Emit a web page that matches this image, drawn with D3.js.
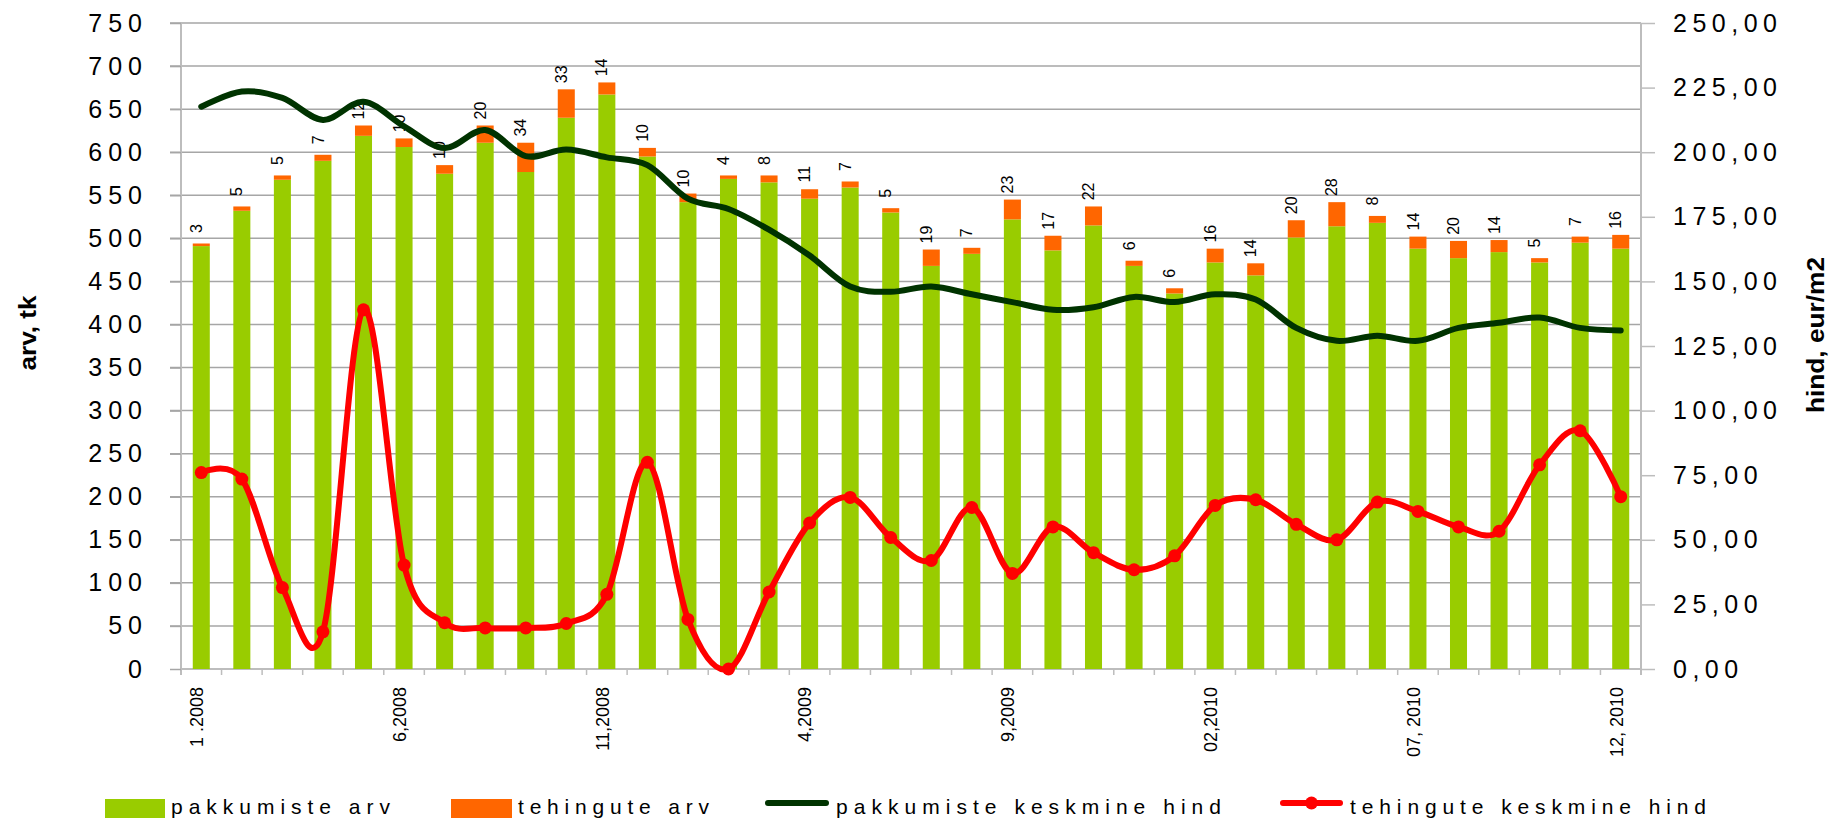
<!DOCTYPE html>
<html><head><meta charset="utf-8">
<script src="https://cdn.jsdelivr.net/npm/d3@7"></script>
<style>body{margin:0;background:#fff}svg{display:block}</style>
</head><body>
<svg id="chart" width="1831" height="820"></svg>
<script>
// ---------- data ----------
const months = ["01.2008","02.2008","03.2008","04.2008","05.2008","06.2008","07.2008","08.2008","09.2008","10.2008","11.2008","12.2008",
  "01.2009","02.2009","03.2009","04.2009","05.2009","06.2009","07.2009","08.2009","09.2009","10.2009","11.2009","12.2009",
  "01.2010","02.2010","03.2010","04.2010","05.2010","06.2010","07.2010","08.2010","09.2010","10.2010","11.2010","12.2010"];
const xTickMonths = ["01.2008","06.2008","11.2008","04.2009","09.2009","02.2010","07.2010","12.2010"];
const xTickLabels = ["1 .2008","6,2008","11,2008","4,2009","9,2009","02,2010","07, 2010","12, 2010"];
const pakkumisteArv = [491,532,568,590,619,606,575,611,577,640,667,595,542,569,565,546,559,530,468,482,522,486,515,468,436,472,457,501,514,518,488,477,484,472,495,488];
const tehinguteArv = [3,5,5,7,12,10,10,20,34,33,14,10,10,4,8,11,7,5,19,7,23,17,22,6,6,16,14,20,28,8,14,20,14,5,7,16];
const pakkumisteHind = [217.6,223.5,221,212.5,219.5,210,201.6,208.6,198.5,201,198,195,182,178,170,160,148,146,148,145,142,139,140,144,142,145,143,132,127,129,127,132,134,136,132,131];
const tehinguteHind = [76,73.5,31.5,14.4,139,40.2,17.9,15.9,15.9,17.6,28.9,80,19.2,0,29.8,56.5,66.4,50.9,42,62.5,37,55,45,38.4,43.8,63.3,65.5,56,50,64.6,61,55,53.3,79,92.2,66.7];
const leftTicks = [0,50,100,150,200,250,300,350,400,450,500,550,600,650,700,750];
const rightTicks = [0,25,50,75,100,125,150,175,200,225,250];
const seriesNames = ["pakkumiste arv","tehingute arv","pakkumiste keskmine hind","tehingute keskmine hind"];
const axisTitles = ["arv, tk","hind, eur/m2"];

// ---------- layout ----------
const L = 181, R = 1641, T = 23, B = 669;
const C = {green:"#99CC00", orange:"#FF6600", dark:"#003300", red:"#FF0000", grid:"#A6A6A6", axis:"#BDBDBD"};
const FONT = "'Liberation Sans', Arial, sans-serif";

const svg = d3.select("#chart");
const x = d3.scaleBand().domain(months).range([L, R]).paddingInner(0.58).paddingOuter(0.29);
const xs = d3.scaleBand().domain(months).range([L, R]).padding(0); // slots
const yL = d3.scaleLinear().domain([0, 750]).range([B, T]);
const yR = d3.scaleLinear().domain([0, 250]).range([B, T]);
const cx = m => xs(m) + xs.bandwidth() / 2;

// gridlines
svg.append("g").selectAll("line").data(leftTicks.filter(d => d > 0)).join("line")
  .attr("x1", L - 11).attr("x2", R).attr("y1", d => yL(d)).attr("y2", d => yL(d))
  .attr("stroke", C.grid).attr("stroke-width", 1.5);

// left axis
const gl = svg.append("g").attr("transform", `translate(${L},0)`)
  .call(d3.axisLeft(yL).tickValues(leftTicks).tickSize(11).tickPadding(28));
gl.select(".domain").attr("stroke", C.axis).attr("stroke-width", 2).attr("d", `M0,${T}V${B + 6}`);
gl.selectAll(".tick line").attr("stroke", C.grid).attr("stroke-width", 1.5);
gl.selectAll(".tick text").attr("font-family", FONT).attr("font-size", 25).attr("fill", "#000")
  .style("letter-spacing", "6px").attr("dx", 6);

// right axis
const fmtR = d => d3.format(".2f")(d).replace(".", ",");
const gr = svg.append("g").attr("transform", `translate(${R},0)`)
  .call(d3.axisRight(yR).tickValues(rightTicks).tickSize(14).tickPadding(18).tickFormat(fmtR));
gr.select(".domain").attr("stroke", C.axis).attr("stroke-width", 2).attr("d", `M0,${T}V${B + 6}`);
gr.selectAll(".tick line").attr("stroke", C.axis).attr("stroke-width", 1.5);
gr.selectAll(".tick text").attr("font-family", FONT).attr("font-size", 25).attr("fill", "#000")
  .style("letter-spacing", "5.5px");

// x axis
const gx = svg.append("g").attr("transform", `translate(0,${B})`)
  .call(d3.axisBottom(xs).tickValues([]).tickSize(0));
gx.select(".domain").attr("stroke", C.axis).attr("stroke-width", 2).attr("d", `M${L},0H${R}`);
svg.append("g").selectAll("line").data(months.slice(1)).join("line")
  .attr("x1", d => xs(d)).attr("x2", d => xs(d)).attr("y1", B).attr("y2", B + 6)
  .attr("stroke", C.axis).attr("stroke-width", 1.5);
svg.append("g").selectAll("text").data(xTickMonths).join("text")
  .attr("transform", d => `translate(${cx(d) - 4.5},687) rotate(-90)`)
  .attr("text-anchor", "end").attr("dy", "0.35em")
  .attr("font-family", FONT).attr("font-size", 18).attr("fill", "#000")
  .text((d, i) => xTickLabels[i]);

// bars
const rows = months.map((m, i) => ({m, g: pakkumisteArv[i], o: tehinguteArv[i]}));
const bars = svg.append("g");
bars.selectAll("rect.g").data(rows).join("rect").attr("class", "g")
  .attr("x", d => x(d.m)).attr("width", x.bandwidth())
  .attr("y", d => yL(d.g)).attr("height", d => yL(0) - yL(d.g)).attr("fill", C.green);
bars.selectAll("rect.o").data(rows).join("rect").attr("class", "o")
  .attr("x", d => x(d.m)).attr("width", x.bandwidth())
  .attr("y", d => yL(d.g + d.o)).attr("height", d => yL(d.g) - yL(d.g + d.o)).attr("fill", C.orange);
bars.selectAll("text").data(rows).join("text")
  .attr("transform", d => `translate(${cx(d.m) - 5},${yL(d.g + d.o) - 15}) rotate(-90)`)
  .attr("text-anchor", "middle").attr("dy", "0.35em")
  .attr("font-family", FONT).attr("font-size", 16).attr("fill", "#000")
  .text(d => d.o);

// lines
const curve = d3.curveCatmullRom.alpha(0);
const lineDark = d3.line().x((d, i) => cx(months[i])).y(d => yR(d)).curve(curve);
svg.append("path").datum(pakkumisteHind).attr("d", lineDark)
  .attr("fill", "none").attr("stroke", C.dark).attr("stroke-width", 6)
  .attr("stroke-linecap", "round").attr("stroke-linejoin", "round");
svg.append("path").datum(tehinguteHind).attr("d", lineDark)
  .attr("fill", "none").attr("stroke", C.red).attr("stroke-width", 6)
  .attr("stroke-linecap", "round").attr("stroke-linejoin", "round");
svg.append("g").selectAll("circle").data(tehinguteHind).join("circle")
  .attr("cx", (d, i) => cx(months[i])).attr("cy", d => yR(d)).attr("r", 6.5).attr("fill", C.red);

// axis titles
svg.append("text").attr("transform", "translate(28,333) rotate(-90)")
  .attr("text-anchor", "middle").attr("dy", "0.35em")
  .attr("font-family", FONT).attr("font-weight", "bold").attr("font-size", 23)
  .attr("textLength", 75).attr("lengthAdjust", "spacingAndGlyphs").text(axisTitles[0]);
svg.append("text").attr("transform", "translate(1816,335) rotate(-90)")
  .attr("text-anchor", "middle").attr("dy", "0.35em")
  .attr("font-family", FONT).attr("font-weight", "bold").attr("font-size", 23)
  .attr("textLength", 156).attr("lengthAdjust", "spacingAndGlyphs").text(axisTitles[1]);

// legend
const lg = svg.append("g").attr("font-family", FONT).attr("font-size", 21).attr("fill", "#000");
const legendItems = [
  {type: "rect", color: C.green, sx: 105, sw: 60, tx: 171, tw: 219},
  {type: "rect", color: C.orange, sx: 451, sw: 61, tx: 518, tw: 191},
  {type: "line", color: C.dark, sx: 768, sw: 58, tx: 836, tw: 385},
  {type: "marker", color: C.red, sx: 1283, sw: 57, tx: 1350, tw: 356}
];
legendItems.forEach((it, i) => {
  if (it.type === "rect") {
    lg.append("rect").attr("x", it.sx).attr("y", 799).attr("width", it.sw).attr("height", 19).attr("fill", it.color);
  } else {
    lg.append("line").attr("x1", it.sx).attr("x2", it.sx + it.sw).attr("y1", 803).attr("y2", 803)
      .attr("stroke", it.color).attr("stroke-width", 6).attr("stroke-linecap", "round");
    if (it.type === "marker") lg.append("circle").attr("cx", it.sx + it.sw / 2).attr("cy", 803).attr("r", 6.5).attr("fill", it.color);
  }
  lg.append("text").attr("x", it.tx).attr("y", 814).attr("textLength", it.tw).attr("lengthAdjust", "spacing")
    .text(seriesNames[i]);
});
</script>
</body></html>
